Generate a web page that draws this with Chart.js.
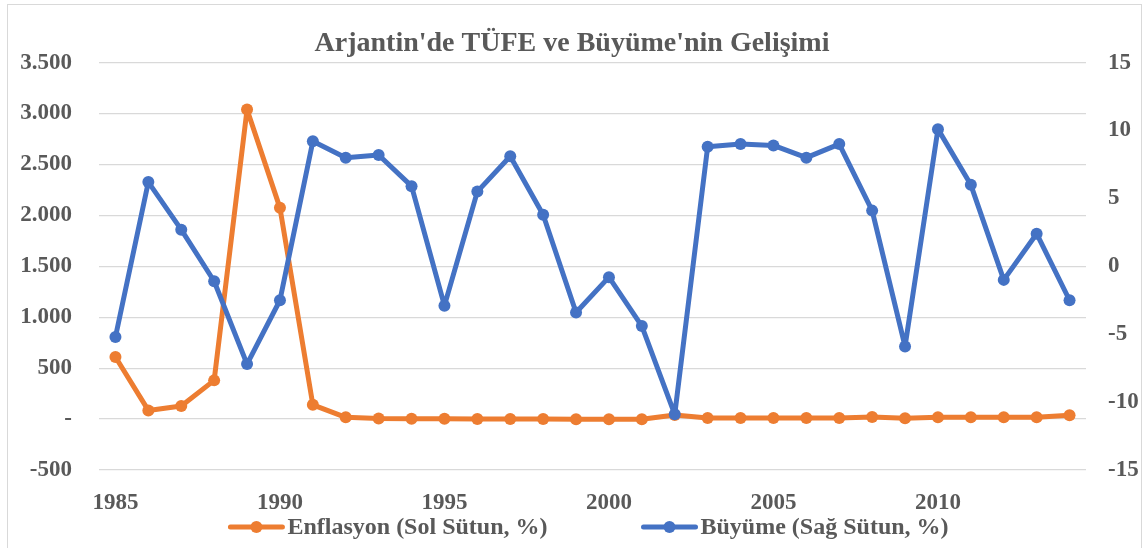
<!DOCTYPE html>
<html lang="tr">
<head>
<meta charset="utf-8">
<title>Arjantin'de TÜFE ve Büyüme'nin Gelişimi</title>
<script src="https://cdn.jsdelivr.net/npm/chart.js@4.4.1/dist/chart.umd.min.js"></script>
<style>
    html, body { margin: 0; padding: 0; background: #ffffff; overflow: hidden; }
    #kutu { position: relative; width: 1144px; height: 548px; }
    #cerceve { position: absolute; left: 7px; top: 4px; width: 1133px; height: 600px; border: 1px solid #d9d9d9; }
    #grafik { position: absolute; left: 0; top: 0; }
</style>
</head>
<body>
<div id="kutu">
    <div id="cerceve"></div>
    <canvas id="grafik" width="1144" height="548"></canvas>
</div>
<script>
// Veriler
const yillar = ["1985", "1986", "1987", "1988", "1989", "1990", "1991", "1992", "1993", "1994",
    "1995", "1996", "1997", "1998", "1999", "2000", "2001", "2002", "2003", "2004",
    "2005", "2006", "2007", "2008", "2009", "2010", "2011", "2012", "2013", "2014"];

// Enflasyon, % (sol eksen)
const enflasyon = [609, 85, 128, 380, 3040, 2074, 140, 17, 5, 4,
    3, 0, 0, 1, -1, -1, -1, 41, 10, 10,
    10, 11, 11, 20, 8, 17, 17, 17, 17, 37];

// Büyüme, % (sağ eksen)
const buyume = [-5.2, 6.2, 2.7, -1.1, -7.2, -2.5, 9.2, 8.0, 8.2, 5.9,
    -2.9, 5.5, 8.1, 3.8, -3.4, -0.8, -4.4, -10.9, 8.8, 9.0,
    8.9, 8.0, 9.0, 4.1, -5.9, 10.1, 6.0, -1.0, 2.4, -2.5];

const seriAdlari = ["Enflasyon (Sol Sütun, %)", "Büyüme (Sağ Sütun, %)"];
const renkler = ["#ED7D31", "#4472C4"];

const yaziRengi = "#595959";
const yaziTipi = "'Liberation Serif', 'Times New Roman', serif";

function binlik(v) {
    if (v === 0) return "-";
    return String(v).replace(/\B(?=(\d{3})+(?!\d))/g, ".");
}

// Alt lejant: çizgi + nokta işareti
const lejant = {
    id: "lejant",
    afterDraw(chart) {
        const ctx = chart.ctx;
        const alan = chart.chartArea;
        ctx.save();
        ctx.font = "bold 24px " + yaziTipi;
        ctx.textBaseline = "middle";
        const isaret = 56, bosluk = 3, araBosluk = 94;
        const genislikler = seriAdlari.map(t => isaret + bosluk + ctx.measureText(t).width);
        const toplam = genislikler[0] + araBosluk + genislikler[1];
        let x = (alan.left + alan.right) / 2 - 4 - toplam / 2;
        const y = 527;
        seriAdlari.forEach((ad, i) => {
            ctx.strokeStyle = renkler[i];
            ctx.lineWidth = 5;
            ctx.lineCap = "round";
            ctx.beginPath();
            ctx.moveTo(x + 2, y);
            ctx.lineTo(x + isaret - 2, y);
            ctx.stroke();
            ctx.fillStyle = renkler[i];
            ctx.beginPath();
            ctx.arc(x + isaret / 2, y, 6, 0, Math.PI * 2);
            ctx.fill();
            ctx.fillStyle = yaziRengi;
            ctx.fillText(ad, x + isaret + bosluk, y + 1);
            x += genislikler[i] + araBosluk;
        });
        ctx.restore();
    }
};

new Chart(document.getElementById("grafik"), {
    type: "line",
    data: {
        labels: yillar,
        datasets: [{
            label: seriAdlari[0],
            data: enflasyon,
            yAxisID: "sol",
            borderColor: renkler[0],
            backgroundColor: renkler[0],
            borderWidth: 5,
            borderJoinStyle: "round",
            pointRadius: 6,
            pointHoverRadius: 6,
            pointBorderWidth: 0,
            tension: 0,
            order: 1
        }, {
            label: seriAdlari[1],
            data: buyume,
            yAxisID: "sag",
            borderColor: renkler[1],
            backgroundColor: renkler[1],
            borderWidth: 5,
            borderJoinStyle: "round",
            pointRadius: 6,
            pointHoverRadius: 6,
            pointBorderWidth: 0,
            tension: 0,
            order: 0
        }]
    },
    options: {
        responsive: false,
        animation: false,
        layout: { padding: 0 },
        plugins: {
            legend: { display: false },
            tooltip: { enabled: false },
            title: {
                display: true,
                text: "Arjantin'de TÜFE ve Büyüme'nin Gelişimi",
                color: yaziRengi,
                font: { family: yaziTipi, size: 28, weight: "bold" },
                padding: { top: 27, bottom: 2 }
            }
        },
        scales: {
            x: {
                offset: true,
                grid: { display: false },
                border: { display: false },
                ticks: {
                    autoSkip: false,
                    maxRotation: 0,
                    padding: 11,
                    color: yaziRengi,
                    font: { family: yaziTipi, size: 23, weight: "bold" },
                    callback: (v, i) => (i % 5 === 0 ? yillar[i] : "")
                },
                afterFit: (s) => { s.height = 78; }
            },
            sol: {
                position: "left",
                min: -500,
                max: 3500,
                grid: { color: "#d9d9d9", lineWidth: 1.3, drawTicks: false },
                border: { display: false },
                ticks: {
                    stepSize: 500,
                    padding: 27,
                    color: yaziRengi,
                    font: { family: yaziTipi, size: 23, weight: "bold" },
                    callback: (v) => binlik(v)
                },
                afterFit: (s) => { s.width = 99; }
            },
            sag: {
                position: "right",
                min: -15,
                max: 15,
                grid: { drawOnChartArea: false, drawTicks: false },
                border: { display: false },
                ticks: {
                    stepSize: 5,
                    padding: 22,
                    color: yaziRengi,
                    font: { family: yaziTipi, size: 23, weight: "bold" }
                },
                afterFit: (s) => { s.width = 58; }
            }
        }
    },
    plugins: [lejant]
});
</script>
</body>
</html>
